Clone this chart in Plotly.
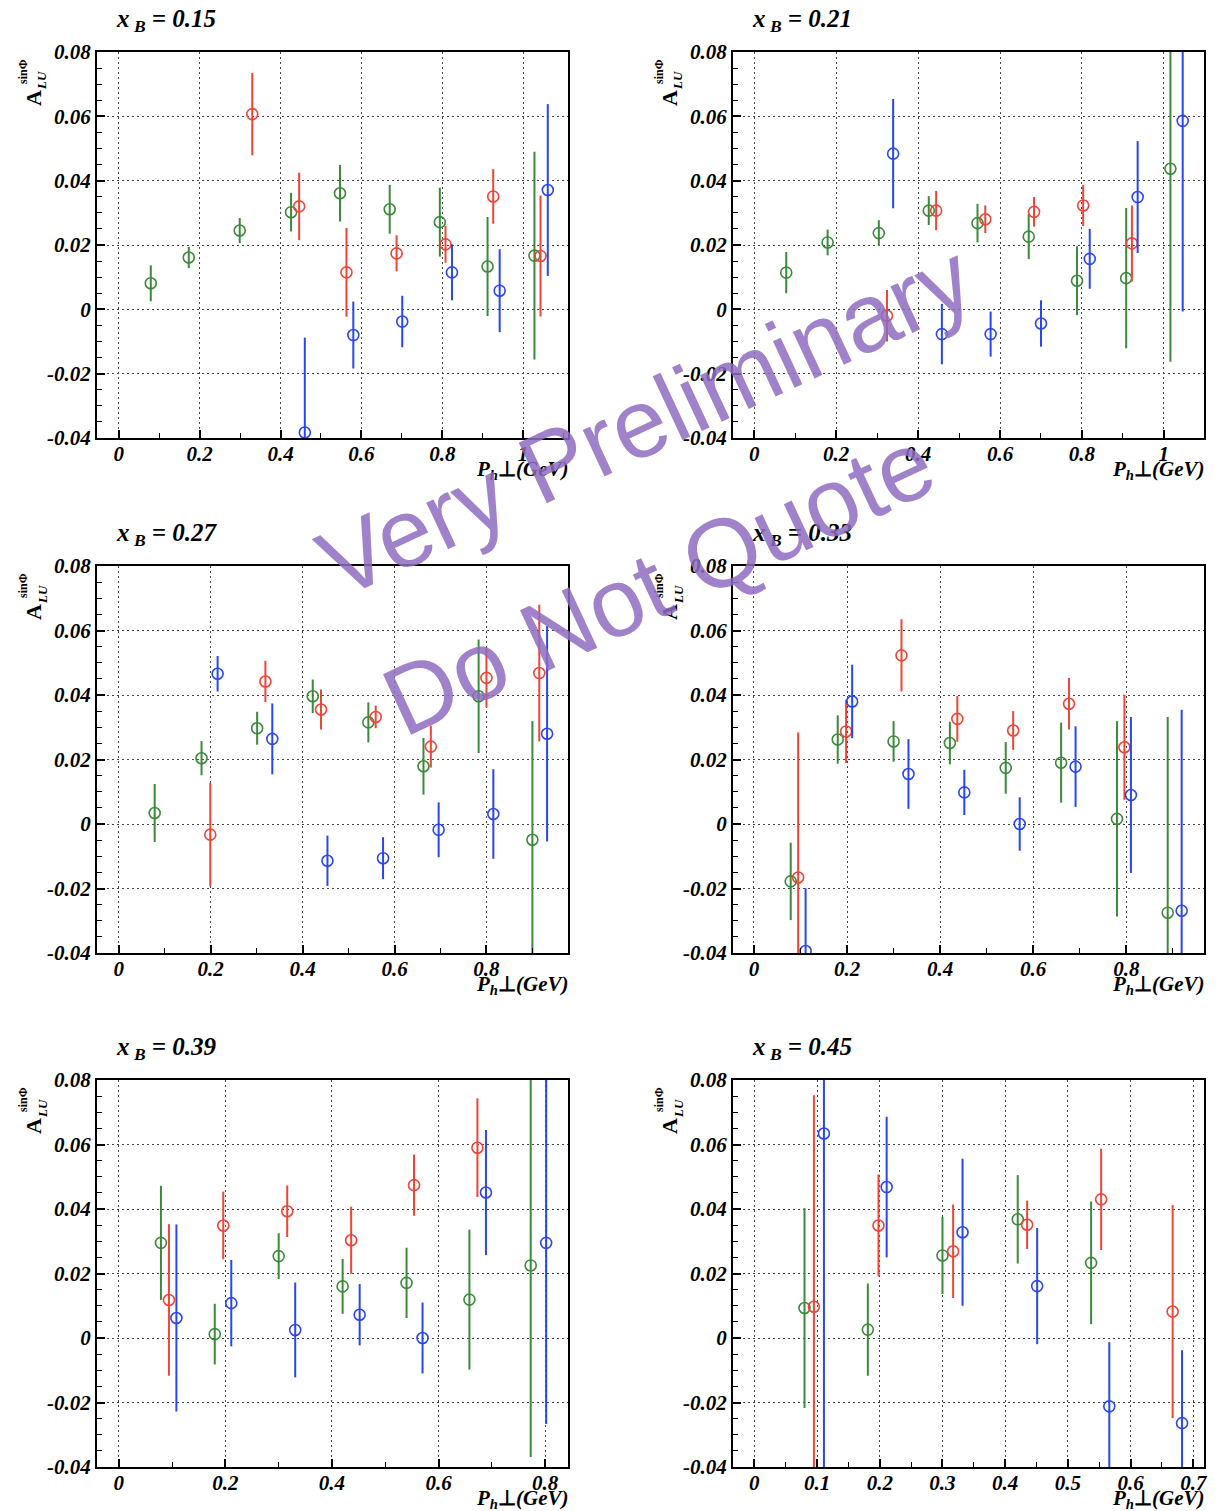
import plotly.graph_objects as go

W, H = 1222, 1511

GREEN = "#3b8a3b"
RED = "#ef4436"
BLUE = "#2a46f0"

# Each point: (P_h_perp [GeV], A_LU^{sin phi}, statistical error)
xb015_green = [(0.079, 0.0081, 0.0056), (0.173, 0.0161, 0.0033), (0.299, 0.0245, 0.0039),
               (0.426, 0.0302, 0.0060), (0.547, 0.0361, 0.0088), (0.670, 0.0311, 0.0076),
               (0.794, 0.0271, 0.0107), (0.912, 0.0133, 0.0154), (1.028, 0.0167, 0.0323)]
xb015_red = [(0.330, 0.0607, 0.0128), (0.446, 0.0320, 0.0105), (0.563, 0.0115, 0.0138),
             (0.687, 0.0174, 0.0056), (0.808, 0.0202, 0.0057), (0.926, 0.0351, 0.0085),
             (1.043, 0.0166, 0.0188)]
xb015_blue = [(0.460, -0.0383, 0.0295), (0.580, -0.0080, 0.0104), (0.701, -0.0038, 0.0080),
              (0.824, 0.0115, 0.0087), (0.942, 0.0058, 0.0129), (1.061, 0.0371, 0.0267)]

xb021_green = [(0.078, 0.0114, 0.0064), (0.179, 0.0208, 0.0040), (0.304, 0.0237, 0.0040),
               (0.426, 0.0307, 0.0045), (0.545, 0.0268, 0.0060), (0.670, 0.0226, 0.0070),
               (0.788, 0.0089, 0.0107), (0.908, 0.0097, 0.0218), (1.016, 0.0437, 0.0600)]
xb021_red = [(0.324, -0.0020, 0.0080), (0.444, 0.0307, 0.0061), (0.564, 0.0280, 0.0043),
             (0.683, 0.0303, 0.0046), (0.803, 0.0323, 0.0064), (0.922, 0.0205, 0.0118)]
xb021_blue = [(0.339, 0.0484, 0.0170), (0.458, -0.0077, 0.0094), (0.577, -0.0077, 0.0070),
              (0.700, -0.0044, 0.0072), (0.819, 0.0157, 0.0093), (0.936, 0.0349, 0.0174),
              (1.046, 0.0586, 0.0593)]

xb027_green = [(0.078, 0.0034, 0.0090), (0.180, 0.0204, 0.0053), (0.301, 0.0297, 0.0051),
               (0.422, 0.0396, 0.0052), (0.543, 0.0315, 0.0062), (0.663, 0.0179, 0.0088),
               (0.783, 0.0396, 0.0176), (0.900, -0.0049, 0.0368)]
xb027_red = [(0.199, -0.0033, 0.0160), (0.319, 0.0442, 0.0064), (0.440, 0.0355, 0.0062),
             (0.559, 0.0332, 0.0035), (0.679, 0.0240, 0.0065), (0.800, 0.0453, 0.0092),
             (0.915, 0.0468, 0.0212)]
xb027_blue = [(0.215, 0.0466, 0.0055), (0.334, 0.0264, 0.0110), (0.454, -0.0114, 0.0078),
              (0.575, -0.0106, 0.0065), (0.696, -0.0018, 0.0085), (0.815, 0.0031, 0.0139),
              (0.932, 0.0280, 0.0334)]

xb033_green = [(0.079, -0.0178, 0.0120), (0.180, 0.0262, 0.0075), (0.300, 0.0256, 0.0063),
               (0.421, 0.0251, 0.0066), (0.541, 0.0174, 0.0080), (0.660, 0.0190, 0.0124),
               (0.780, 0.0016, 0.0303), (0.889, -0.0275, 0.0607)]
xb033_red = [(0.095, -0.0166, 0.0450), (0.198, 0.0287, 0.0098), (0.317, 0.0523, 0.0112),
             (0.437, 0.0326, 0.0071), (0.557, 0.0290, 0.0060), (0.677, 0.0373, 0.0080),
             (0.796, 0.0238, 0.0163)]
xb033_blue = [(0.111, -0.0394, 0.0195), (0.211, 0.0380, 0.0114), (0.332, 0.0155, 0.0108),
              (0.452, 0.0098, 0.0070), (0.571, 0.0000, 0.0083), (0.691, 0.0178, 0.0125),
              (0.810, 0.0090, 0.0242), (0.919, -0.0269, 0.0623)]

xb039_green = [(0.079, 0.0295, 0.0177), (0.180, 0.0012, 0.0094), (0.300, 0.0254, 0.0071),
               (0.420, 0.0160, 0.0085), (0.540, 0.0171, 0.0109), (0.658, 0.0119, 0.0217),
               (0.773, 0.0225, 0.0594)]
xb039_red = [(0.094, 0.0118, 0.0235), (0.196, 0.0349, 0.0105), (0.316, 0.0393, 0.0080),
             (0.436, 0.0303, 0.0104), (0.554, 0.0474, 0.0095), (0.673, 0.0590, 0.0153)]
xb039_blue = [(0.108, 0.0062, 0.0290), (0.211, 0.0108, 0.0134), (0.331, 0.0025, 0.0147),
              (0.452, 0.0072, 0.0095), (0.570, 0.0000, 0.0110), (0.689, 0.0451, 0.0194),
              (0.802, 0.0295, 0.0562)]

xb045_green = [(0.080, 0.0093, 0.0310), (0.181, 0.0026, 0.0143), (0.300, 0.0256, 0.0120),
               (0.420, 0.0368, 0.0137), (0.537, 0.0233, 0.0190)]
xb045_red = [(0.095, 0.0097, 0.0656), (0.198, 0.0349, 0.0158), (0.317, 0.0269, 0.0145),
             (0.435, 0.0351, 0.0075), (0.553, 0.0430, 0.0157), (0.667, 0.0082, 0.0330)]
xb045_blue = [(0.111, 0.0634, 0.1050), (0.211, 0.0468, 0.0218), (0.332, 0.0328, 0.0228),
              (0.451, 0.0161, 0.0180), (0.566, -0.0212, 0.0199), (0.682, -0.0264, 0.0226)]

Y_TICKS = [-0.04, -0.02, 0.0, 0.02, 0.04, 0.06, 0.08]
Y_TICK_TEXT = ["-0.04", "-0.02", "0", "0.02", "0.04", "0.06", "0.08"]
X_TICKS_10 = [0.0, 0.2, 0.4, 0.6, 0.8, 1.0]
X_TICK_TEXT_10 = ["0", "0.2", "0.4", "0.6", "0.8", "1"]
X_TICKS_08 = [0.0, 0.2, 0.4, 0.6, 0.8]
X_TICK_TEXT_08 = ["0", "0.2", "0.4", "0.6", "0.8"]
X_TICKS_07 = [0.0, 0.1, 0.2, 0.3, 0.4, 0.5, 0.6, 0.7]
X_TICK_TEXT_07 = ["0", "0.1", "0.2", "0.3", "0.4", "0.5", "0.6", "0.7"]

# frame pixel boxes (left, right, top, bottom)
LEFT_COL = (97, 568)
RIGHT_COL = (733, 1204)
ROWS = [(52, 438), (566, 953), (1080, 1467)]

panels = [
    dict(xb="0.15", series=(xb015_green, xb015_red, xb015_blue), xr=(-0.054, 1.111),
         ticks=(X_TICKS_10, X_TICK_TEXT_10), minor=0.1, col=LEFT_COL, row=ROWS[0]),
    dict(xb="0.21", series=(xb021_green, xb021_red, xb021_blue), xr=(-0.052, 1.098),
         ticks=(X_TICKS_10, X_TICK_TEXT_10), minor=0.1, col=RIGHT_COL, row=ROWS[0]),
    dict(xb="0.27", series=(xb027_green, xb027_red, xb027_blue), xr=(-0.0475, 0.9775),
         ticks=(X_TICKS_08, X_TICK_TEXT_08), minor=0.1, col=LEFT_COL, row=ROWS[1]),
    dict(xb="0.33", series=(xb033_green, xb033_red, xb033_blue), xr=(-0.045, 0.967),
         ticks=(X_TICKS_08, X_TICK_TEXT_08), minor=0.1, col=RIGHT_COL, row=ROWS[1]),
    dict(xb="0.39", series=(xb039_green, xb039_red, xb039_blue), xr=(-0.041, 0.843),
         ticks=(X_TICKS_08, X_TICK_TEXT_08), minor=0.1, col=LEFT_COL, row=ROWS[2]),
    dict(xb="0.45", series=(xb045_green, xb045_red, xb045_blue), xr=(-0.034, 0.717),
         ticks=(X_TICKS_07, X_TICK_TEXT_07), minor=0.05, col=RIGHT_COL, row=ROWS[2]),
]

SERIF = "Liberation Serif"
fig = go.Figure()
annotations = []


def px_x(p):
    return p / W


def px_y(p):
    return 1 - p / H


def label(xp, yp, text, size, xanchor="center", yanchor="middle", angle=0, **font):
    return dict(
        x=px_x(xp), y=px_y(yp), xref="paper", yref="paper", showarrow=False,
        xanchor=xanchor, yanchor=yanchor, textangle=angle, text=text,
        font=dict(family=font.get("family", SERIF), size=size, color=font.get("color", "black")),
    )


for i, pan in enumerate(panels, start=1):
    xa = "x" if i == 1 else f"x{i}"
    ya = "y" if i == 1 else f"y{i}"
    for pts, color in zip(pan["series"], (GREEN, RED, BLUE)):
        xs, ys, es = zip(*pts)
        fig.add_trace(go.Scatter(
            x=xs, y=ys, xaxis=xa, yaxis=ya, mode="markers", showlegend=False,
            marker=dict(symbol="circle-open", size=11, color=color, line=dict(width=1.6, color=color)),
            error_y=dict(type="data", array=es, visible=True, width=0, thickness=2, color=color),
        ))

    L, R = pan["col"]
    T, B = pan["row"]
    tickvals, ticktext = pan["ticks"]
    axis_common = dict(
        showline=True, linecolor="black", linewidth=2, mirror=True,
        ticks="inside", ticklen=8, tickwidth=1.5, tickcolor="black",
        showgrid=True, gridcolor="#444444", gridwidth=1.3, griddash="2px,3px",
        zeroline=False, tickmode="array", automargin=False,
        tickfont=dict(family=SERIF, size=21, color="black", weight="bold", style="italic"),
    )
    fig.layout[f"xaxis{i if i > 1 else ''}"] = dict(
        axis_common, domain=[px_x(L), px_x(R)], range=list(pan["xr"]), anchor=ya,
        tickvals=tickvals, ticktext=ticktext, ticklabelstandoff=-4,
        minor=dict(tickmode="linear", tick0=0, dtick=pan["minor"], ticks="inside",
                   ticklen=5, tickwidth=1.2, tickcolor="black", showgrid=False),
    )
    fig.layout[f"yaxis{i if i > 1 else ''}"] = dict(
        axis_common, domain=[px_y(B), px_y(T)], range=[-0.04, 0.08], anchor=xa,
        tickvals=Y_TICKS, ticktext=Y_TICK_TEXT,
        minor=dict(tickmode="linear", tick0=0, dtick=0.005, ticks="inside",
                   ticklen=5, tickwidth=1.2, tickcolor="black", showgrid=False),
    )

    # panel label x_B
    annotations.append(label(
        L + 17, T - 32,
        f"<b><i>x</i></b><sub><b><i> B</i></b></sub><b><i> = {pan['xb']}</i></b>",
        25, xanchor="left"))
    # y axis title A_LU^{sin phi}
    annotations.append(label(L - 64, T + 46, "<b>A</b>", 22, angle=-90))
    annotations.append(label(L - 74, T + 20, "<b>sinΦ</b>", 12, angle=-90))
    annotations.append(label(L - 55, T + 29, "<b><i>LU</i></b>", 13, angle=-90))
    # x axis title
    annotations.append(label(
        R + 2, B + 32,
        "<b><i>P</i></b><sub><b><i>h</i></b></sub><b>⊥</b><b><i>(GeV)</i></b>",
        21, xanchor="right"))

# watermark
WM_COLOR = "rgba(142,108,192,0.85)"
annotations.append(label(645, 420, "Very Preliminary", 97, angle=-25,
                         family="Liberation Sans", color=WM_COLOR))
annotations.append(label(658, 582, "Do Not Quote", 97, angle=-25,
                         family="Liberation Sans", color=WM_COLOR))

fig.update_layout(
    width=W, height=H,
    margin=dict(l=0, r=0, t=0, b=0, pad=0, autoexpand=False),
    paper_bgcolor="white", plot_bgcolor="white",
    showlegend=False,
    annotations=annotations,
)

fig.write_html("out.html")
